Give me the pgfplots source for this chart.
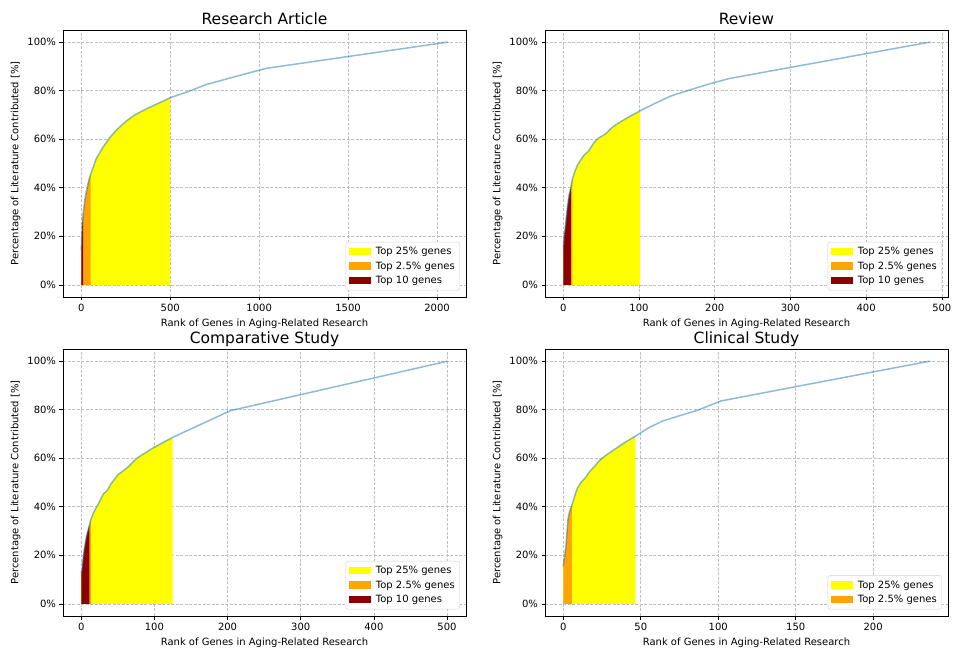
\documentclass[border=0pt]{standalone}
\usepackage{pgfplots}
\pgfplotsset{compat=1.18}
\usepackage{pgfplotstable}
\usepackage{fontspec}
\setmainfont{DejaVu Sans}
\definecolor{mplblue}{HTML}{1F77B4}
\definecolor{dred}{HTML}{8B0000}
\definecolor{orng}{HTML}{FFA500}
\definecolor{yel}{HTML}{FFFF00}

\pgfplotstableread{
x y
0 14
1 16
2 19
5 24
10 29
20 35
30 39
40 42.5
52 45.5
84 52
120 56.5
159 60.6
200 64
253 67.5
300 70
365 72.5
430 74.7
500 77.1
600 79.6
702 82.5
850 85.5
1040 89.2
2060 100
}\dataA

\pgfplotstableread{
x y
0 15.4
1 20
2.6 23.7
5.3 32
7.5 36.8
10 40.2
12 43.7
15 46.5
18.5 49.2
23 51.5
28 53.7
33 55
38 57.4
43 59.5
47 60.6
55 62
60 63.5
65 65
72 66.5
80 68
90 69.8
101 71.6
120 74.6
142 77.8
168 80.4
193 82.8
219 85
484 100
}\dataB

\pgfplotstableread{
x y
0 13
1 14
2 17.5
4 22.3
7 27.8
11 32.4
13 34.7
17 37.7
24 41.6
30.6 45.5
35 46.5
40 49.2
50 53.2
62.5 56
76 60
94.5 63.6
113 66.7
125 68.6
204 79.6
501 100
}\dataC

\pgfplotstableread{
x y
0 15.4
0.5 18
1.7 23.7
3 34.7
4 38
5.5 40.5
7.3 44.4
9 47.5
11.2 49.9
14.2 51.9
17 54.5
20.2 56.7
23 58.8
26.2 60.6
33 63.6
39.5 66.4
46.5 69.1
55 72.5
64 75.3
75 77.5
86.8 79.8
101.8 83.6
236.5 100
}\dataD

\pgfplotsset{
  boxlegend/.style={legend image code/.code={\fill[##1, sharp corners] (0bp,-3.5bp) rectangle (22bp,4bp);}},
  panel/.style={
    scale only axis, width=403bp, height=267bp,
    anchor=south west,
    ymin=-5, ymax=105,
    ytick={0,20,40,60,80,100},
    yticklabels={0\%,20\%,40\%,60\%,80\%,100\%},
    grid=major,
    major grid style={gray!50, dash pattern=on 3bp off 1.5bp, line width=0.6bp},
    tick align=outside, tick pos=left,
    major tick length=3.5bp,
    tick style={black, line width=0.6bp},
    axis line style={black, line width=0.8bp},
    ticklabel style={font=\fontsize{10bp}{12bp}\selectfont},
    label style={font=\fontsize{10bp}{12bp}\selectfont},
    title style={font=\fontsize{15.5bp}{18bp}\selectfont, at={(0.5,1)}, anchor=base, yshift=0bp, inner sep=0pt},
    xlabel={Rank of Genes in Aging-Related Research},
    ylabel={Percentage of Literature Contributed [\%]},
    /pgf/number format/assume math mode=true,
    /pgf/number format/1000 sep={},
    scaled x ticks=false,
    legend cell align=left,
    legend style={at={(0.985,0.025)}, anchor=south east, draw=gray!35,
      rounded corners=2bp, font=\fontsize{10bp}{12bp}\selectfont,
      nodes={font=\fontsize{10bp}{12bp}\selectfont, inner sep=1.5bp},
      row sep=2.6bp, inner sep=3.5bp, fill=white,
      /tikz/every odd column/.append style={column sep=3bp}},
  },
}

\begin{document}
\begin{tikzpicture}
\path[use as bounding box] (0,0) rectangle (954bp,649bp);

% Research Article
\begin{axis}[panel, at={(63bp,352bp)}, title={Research Article},
  xmin=-103, xmax=2163, xtick={0,500,1000,1500,2000}]
\addplot[boxlegend, fill=yel, draw=none, restrict x to domain=0:500] table {\dataA} \closedcycle;
\addlegendentry{Top 25\% genes}
\addplot[boxlegend, fill=orng, draw=none, restrict x to domain=0:52] table {\dataA} \closedcycle;
\addlegendentry{Top 2.5\% genes}
\addplot[boxlegend, fill=dred, draw=none, restrict x to domain=0:10] table {\dataA} \closedcycle;
\addlegendentry{Top 10 genes}
\addplot[mplblue, opacity=0.5, line width=1.5bp, forget plot] table {\dataA};
\end{axis}

% Review
\begin{axis}[panel, at={(545bp,352bp)}, title={Review},
  xmin=-24.2, xmax=508.2, xtick={0,100,200,300,400,500}]
\addplot[boxlegend, fill=yel, draw=none, restrict x to domain=0:101] table {\dataB} \closedcycle;
\addlegendentry{Top 25\% genes}
\addplot[boxlegend, fill=orng, draw=none, restrict x to domain=0:12] table {\dataB} \closedcycle;
\addlegendentry{Top 2.5\% genes}
\addplot[boxlegend, fill=dred, draw=none, restrict x to domain=0:10] table {\dataB} \closedcycle;
\addlegendentry{Top 10 genes}
\addplot[mplblue, opacity=0.5, line width=1.5bp, forget plot] table {\dataB};
\end{axis}

% Comparative Study
\begin{axis}[panel, at={(63bp,33bp)}, title={Comparative Study},
  xmin=-25, xmax=526, xtick={0,100,200,300,400,500}]
\addplot[boxlegend, fill=yel, draw=none, restrict x to domain=0:125] table {\dataC} \closedcycle;
\addlegendentry{Top 25\% genes}
\addplot[boxlegend, fill=orng, draw=none, restrict x to domain=0:13] table {\dataC} \closedcycle;
\addlegendentry{Top 2.5\% genes}
\addplot[boxlegend, fill=dred, draw=none, restrict x to domain=0:11] table {\dataC} \closedcycle;
\addlegendentry{Top 10 genes}
\addplot[mplblue, opacity=0.5, line width=1.5bp, forget plot] table {\dataC};
\end{axis}

% Clinical Study
\begin{axis}[panel, at={(545bp,33bp)}, title={Clinical Study},
  xmin=-11.8, xmax=248.3, xtick={0,50,100,150,200}]
\addplot[boxlegend, fill=yel, draw=none, restrict x to domain=0:46.5] table {\dataD} \closedcycle;
\addlegendentry{Top 25\% genes}
\addplot[boxlegend, fill=orng, draw=none, restrict x to domain=0:5.5] table {\dataD} \closedcycle;
\addlegendentry{Top 2.5\% genes}
\addplot[mplblue, opacity=0.5, line width=1.5bp, forget plot] table {\dataD};
\end{axis}
\end{tikzpicture}
\end{document}
